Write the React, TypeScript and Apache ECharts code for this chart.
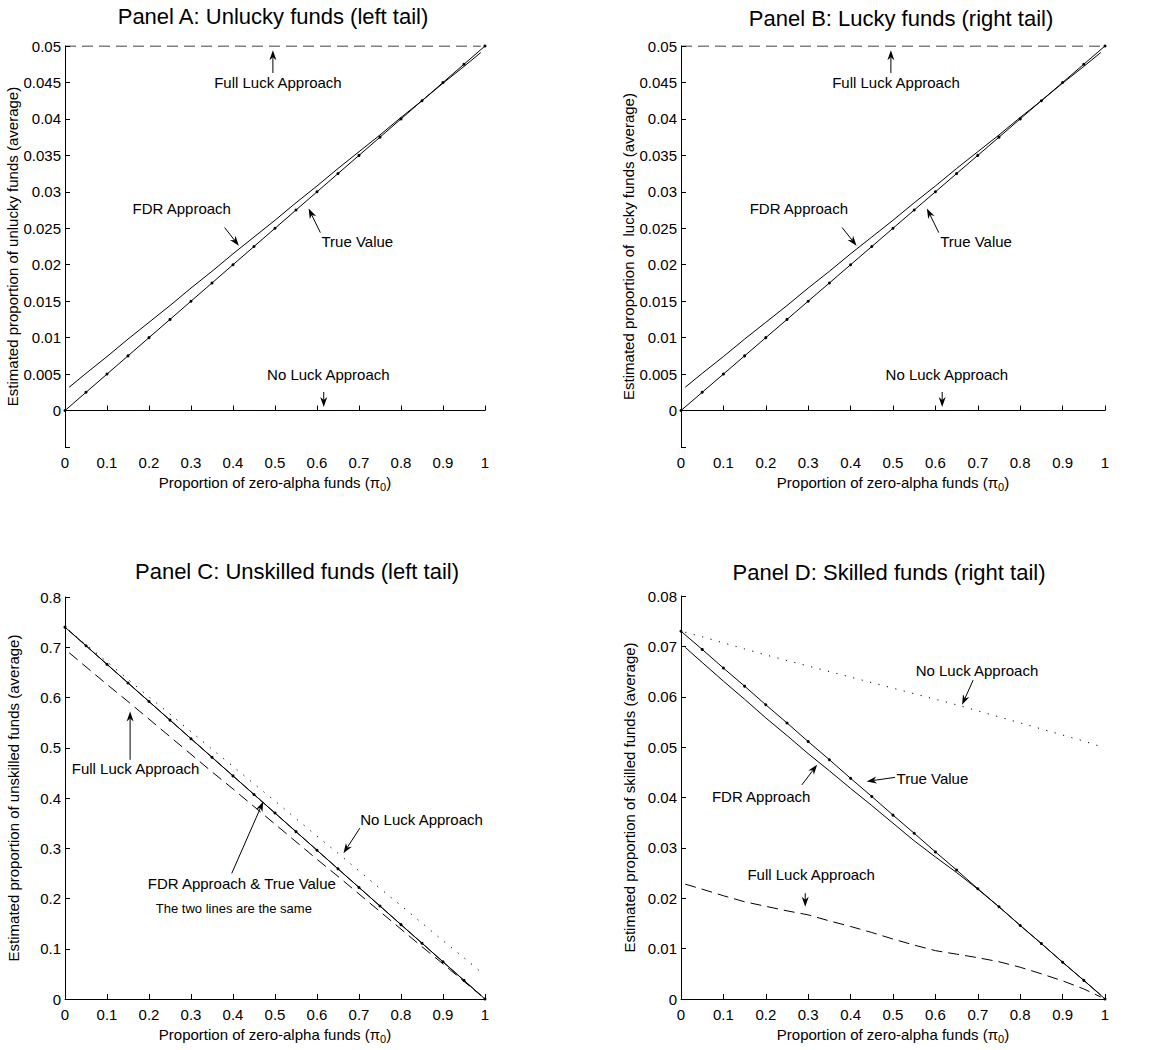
import React, { useEffect, useRef } from "react";
import * as echarts from "echarts";

// ---------- data ----------
const X_TRUE = [0, 0.05, 0.1, 0.15, 0.2, 0.25, 0.3, 0.35, 0.4, 0.45, 0.5, 0.55, 0.6, 0.65, 0.7, 0.75, 0.8, 0.85, 0.9, 0.95, 1];
const X_EST = [0.01, 0.05, 0.1, 0.15, 0.2, 0.25, 0.3, 0.35, 0.4, 0.45, 0.5, 0.55, 0.6, 0.65, 0.7, 0.75, 0.8, 0.85, 0.9, 0.95, 0.99];
const X_TICKS = [0, 0.1, 0.2, 0.3, 0.4, 0.5, 0.6, 0.7, 0.8, 0.9, 1];

// Panels A and B (luck, tails)
const TRUE_AB = [0, 0.0025, 0.005, 0.0075, 0.01, 0.0125, 0.015, 0.0175, 0.02, 0.0225, 0.025, 0.0275, 0.03, 0.0325, 0.035, 0.0375, 0.04, 0.0425, 0.045, 0.0475, 0.05];
const FDR_AB = [0.0032, 0.0051, 0.0074, 0.0098, 0.0121, 0.0144, 0.0168, 0.0191, 0.0215, 0.0238, 0.0261, 0.0285, 0.0308, 0.0332, 0.0355, 0.0378, 0.0402, 0.0425, 0.0449, 0.0472, 0.0491];
const FULL_LUCK_X_AB = [0, 0.99];
const FULL_LUCK_AB = [0.05, 0.05];
const NO_LUCK_X_AB = [0, 0.99];
const NO_LUCK_AB = [0, 0];

// Panel C (unskilled)
const TRUE_C = [0.74, 0.703, 0.666, 0.629, 0.592, 0.555, 0.518, 0.481, 0.444, 0.407, 0.37, 0.333, 0.296, 0.259, 0.222, 0.185, 0.148, 0.111, 0.074, 0.037, 0];
const FDR_C = [0.7326, 0.703, 0.666, 0.629, 0.592, 0.555, 0.518, 0.481, 0.444, 0.407, 0.37, 0.333, 0.296, 0.259, 0.222, 0.185, 0.148, 0.111, 0.074, 0.037, 0.0074];
const NO_LUCK_C = [0.733, 0.705, 0.671, 0.636, 0.601, 0.567, 0.532, 0.497, 0.463, 0.428, 0.394, 0.359, 0.324, 0.29, 0.255, 0.22, 0.186, 0.151, 0.116, 0.082, 0.054];
const FULL_LUCK_C = [0.689, 0.661, 0.626, 0.592, 0.557, 0.522, 0.487, 0.452, 0.418, 0.383, 0.348, 0.313, 0.278, 0.244, 0.209, 0.174, 0.139, 0.104, 0.07, 0.035, 0.007];

// Panel D (skilled)
const TRUE_D = [0.073, 0.0694, 0.0657, 0.0621, 0.0584, 0.0548, 0.0511, 0.0475, 0.0438, 0.0402, 0.0365, 0.0329, 0.0292, 0.0256, 0.0219, 0.0183, 0.0146, 0.011, 0.0073, 0.0037, 0];
const FDR_D = [0.0698, 0.0668, 0.0631, 0.0595, 0.0558, 0.0523, 0.0487, 0.0453, 0.0418, 0.0384, 0.0349, 0.0314, 0.0282, 0.0251, 0.0218, 0.0183, 0.0146, 0.011, 0.0073, 0.0037, 0.0008];
const NO_LUCK_D = [0.0728, 0.0719, 0.0707, 0.0695, 0.0683, 0.0672, 0.0661, 0.065, 0.0639, 0.0628, 0.0617, 0.0606, 0.0595, 0.0584, 0.0572, 0.056, 0.0548, 0.0536, 0.0524, 0.0512, 0.0501];
const FULL_LUCK_D = [0.0228, 0.0218, 0.0205, 0.0193, 0.0184, 0.0175, 0.0167, 0.0155, 0.0144, 0.0132, 0.0119, 0.0107, 0.0096, 0.0089, 0.0082, 0.0074, 0.0063, 0.005, 0.0036, 0.002, 0.0004];

const TITLES = [
  "Panel A: Unlucky funds (left tail)",
  "Panel B: Lucky funds (right tail)",
  "Panel C: Unskilled funds (left tail)",
  "Panel D: Skilled funds (right tail)",
];
const Y_NAMES = [
  "Estimated proportion of unlucky funds (average)",
  "Estimated proportion of  lucky funds (average)",
  "Estimated proportion of unskilled funds (average)",
  "Estimated proportion of skilled funds (average)",
];
const X_NAME = "Proportion of zero-alpha funds (π{sub|0})";

// annotations, in data coordinates of each panel
const NOTES_AB = [
  { text: "Full Luck Approach", at: [0.507, 0.045], from: [0.495, 0.0463], to: [0.495, 0.0494] },
  { text: "FDR Approach", at: [0.278, 0.0277], from: [0.38, 0.0251], to: [0.414, 0.0226] },
  { text: "True Value", at: [0.696, 0.0232], from: [0.608, 0.0244], to: [0.58, 0.0277] },
  { text: "No Luck Approach", at: [0.627, 0.005], from: [0.616, 0.00255], to: [0.616, 0.0005] },
];
const NOTES_C = [
  { text: "Full Luck Approach", at: [0.168, 0.458], from: [0.155, 0.476], to: [0.155, 0.572] },
  { text: "FDR Approach & True Value", at: [0.421, 0.23], from: [0.397, 0.25], to: [0.472, 0.393] },
  { text: "The two lines are the same", at: [0.402, 0.18], small: true },
  { text: "No Luck Approach", at: [0.849, 0.358], from: [0.702, 0.34], to: [0.663, 0.29] },
];
const NOTES_D = [
  { text: "No Luck Approach", at: [0.698, 0.0653], from: [0.689, 0.0633], to: [0.663, 0.0584] },
  { text: "True Value", at: [0.593, 0.0438], from: [0.505, 0.044], to: [0.438, 0.0432] },
  { text: "FDR Approach", at: [0.189, 0.0402], from: [0.285, 0.0425], to: [0.321, 0.0465] },
  { text: "Full Luck Approach", at: [0.307, 0.0248], from: [0.293, 0.021], to: [0.293, 0.0183] },
];

// ---------- layout ----------
const FONT = '"Liberation Sans", Arial, Helvetica, sans-serif';
const GRIDS = [
  { left: 65, top: 46, width: 420, height: 401 },
  { left: 681, top: 46, width: 424, height: 401 },
  { left: 65, top: 597, width: 420, height: 402 },
  { left: 681, top: 596, width: 424, height: 403 },
];
const TITLE_POS = [
  [273, 16],
  [901, 18],
  [297, 571],
  [889, 572],
];
const Y_RANGES = [
  { min: -0.005, max: 0.05, interval: 0.005 },
  { min: -0.005, max: 0.05, interval: 0.005 },
  { min: 0, max: 0.8, interval: 0.1 },
  { min: 0, max: 0.08, interval: 0.01 },
];

const zip = (xs: number[], ys: number[]) => xs.map((x, i) => [x, ys[i]]);
const fmt = (v: number) => (v < -1e-9 ? "" : String(+v.toFixed(4)));

function lineSeries(i: number, data: number[][], kind: "solid" | "dash" | "dot", dots = false) {
  return {
    type: "line",
    xAxisIndex: i,
    yAxisIndex: i,
    data,
    showSymbol: dots,
    symbol: "circle",
    symbolSize: 3,
    itemStyle: { color: "#000" },
    lineStyle: {
      color: "#000",
      width: 1,
      type: kind === "solid" ? "solid" : kind === "dash" ? [11, 6] : [1.2, 7.5],
    },
    silent: true,
    z: kind === "solid" ? 3 : 2,
  };
}

export default function App() {
  const ref = useRef<HTMLDivElement>(null);
  useEffect(() => {
    document.body.style.margin = "0";
    const chart = echarts.init(ref.current!, undefined, { renderer: "svg" });
    const axisCommon = {
      axisLine: { lineStyle: { color: "#000", width: 1 } },
      axisTick: { inside: true, length: 5, lineStyle: { color: "#000" } },
      splitLine: { show: false },
    };
    const xAxis = GRIDS.map((_, i) => ({
      type: "value",
      gridIndex: i,
      min: X_TICKS[0],
      max: X_TICKS[X_TICKS.length - 1],
      interval: 0.1,
      name: X_NAME,
      nameLocation: "middle",
      nameGap: 25,
      nameTextStyle: {
        fontSize: 15,
        color: "#000",
        fontFamily: FONT,
        rich: { sub: { fontSize: 11, color: "#000", fontFamily: FONT, padding: [9, 0, 0, 0] } },
      },
      axisLabel: { fontSize: 15, color: "#000", fontFamily: FONT, margin: 8, formatter: fmt, showMinLabel: true, showMaxLabel: true },
      ...axisCommon,
    }));
    const yAxis = GRIDS.map((_, i) => ({
      type: "value",
      gridIndex: i,
      ...Y_RANGES[i],
      name: Y_NAMES[i],
      nameLocation: "middle",
      nameRotate: 90,
      nameGap: 44,
      nameTextStyle: { fontSize: 15, color: "#000", fontFamily: FONT },
      axisLabel: { fontSize: 15, color: "#000", fontFamily: FONT, margin: 4, formatter: fmt, showMinLabel: true, showMaxLabel: true },
      ...axisCommon,
    }));
    const series: any[] = [];
    [0, 1].forEach((i) => {
      series.push(lineSeries(i, zip(FULL_LUCK_X_AB, FULL_LUCK_AB), "dash"));
      series.push(lineSeries(i, zip(NO_LUCK_X_AB, NO_LUCK_AB), "dot"));
      series.push(lineSeries(i, zip(X_EST, FDR_AB), "solid"));
      series.push(lineSeries(i, zip(X_TRUE, TRUE_AB), "solid", true));
    });
    series.push(lineSeries(2, zip(X_EST, FULL_LUCK_C), "dash"));
    series.push(lineSeries(2, zip(X_EST, NO_LUCK_C), "dot"));
    series.push(lineSeries(2, zip(X_EST, FDR_C), "solid"));
    series.push(lineSeries(2, zip(X_TRUE, TRUE_C), "solid", true));
    series.push(lineSeries(3, zip(X_EST, FULL_LUCK_D), "dash"));
    series.push(lineSeries(3, zip(X_EST, NO_LUCK_D), "dot"));
    series.push(lineSeries(3, zip(X_EST, FDR_D), "solid"));
    series.push(lineSeries(3, zip(X_TRUE, TRUE_D), "solid", true));

    chart.setOption({
      animation: false,
      backgroundColor: "#fff",
      grid: GRIDS.map((g) => ({ ...g, containLabel: false })),
      xAxis,
      yAxis,
      series,
    });

    const graphic: any[] = [];
    TITLES.forEach((t, i) => {
      graphic.push({
        type: "text",
        silent: true,
        style: {
          text: t,
          x: TITLE_POS[i][0],
          y: TITLE_POS[i][1],
          fill: "#000",
          font: `22px ${FONT}`,
          textAlign: "center",
          textVerticalAlign: "middle",
          align: "center",
          verticalAlign: "middle",
        },
      });
    });
    const notesPerPanel = [NOTES_AB, NOTES_AB, NOTES_C, NOTES_D];
    notesPerPanel.forEach((notes, gi) => {
      notes.forEach((n: any) => {
        const p = chart.convertToPixel({ gridIndex: gi }, n.at) as number[];
        graphic.push({
          type: "text",
          silent: true,
          style: {
            text: n.text,
            x: p[0],
            y: p[1],
            fill: "#000",
            font: `${n.small ? 13 : 15}px ${FONT}`,
            textAlign: "center",
            textVerticalAlign: "middle",
            align: "center",
            verticalAlign: "middle",
          },
        });
        if (n.from && n.to) {
          const a = chart.convertToPixel({ gridIndex: gi }, n.from) as number[];
          const b = chart.convertToPixel({ gridIndex: gi }, n.to) as number[];
          const dx = b[0] - a[0];
          const dy = b[1] - a[1];
          const len = Math.hypot(dx, dy) || 1;
          const ux = dx / len;
          const uy = dy / len;
          const nx = -uy;
          const ny = ux;
          const L = 10;
          const W = 3.5;
          const notch = 3;
          const base = [b[0] - ux * L, b[1] - uy * L];
          const mid = [b[0] - ux * (L - notch), b[1] - uy * (L - notch)];
          graphic.push({
            type: "line",
            silent: true,
            shape: { x1: a[0], y1: a[1], x2: mid[0], y2: mid[1] },
            style: { stroke: "#000", lineWidth: 1 },
          });
          graphic.push({
            type: "polygon",
            silent: true,
            shape: {
              points: [
                [b[0], b[1]],
                [base[0] + nx * W, base[1] + ny * W],
                mid,
                [base[0] - nx * W, base[1] - ny * W],
              ],
            },
            style: { fill: "#000" },
          });
        }
      });
    });
    chart.setOption({ graphic });

    return () => chart.dispose();
  }, []);
  return <div ref={ref} style={{ width: 1175, height: 1050 }} />;
}
